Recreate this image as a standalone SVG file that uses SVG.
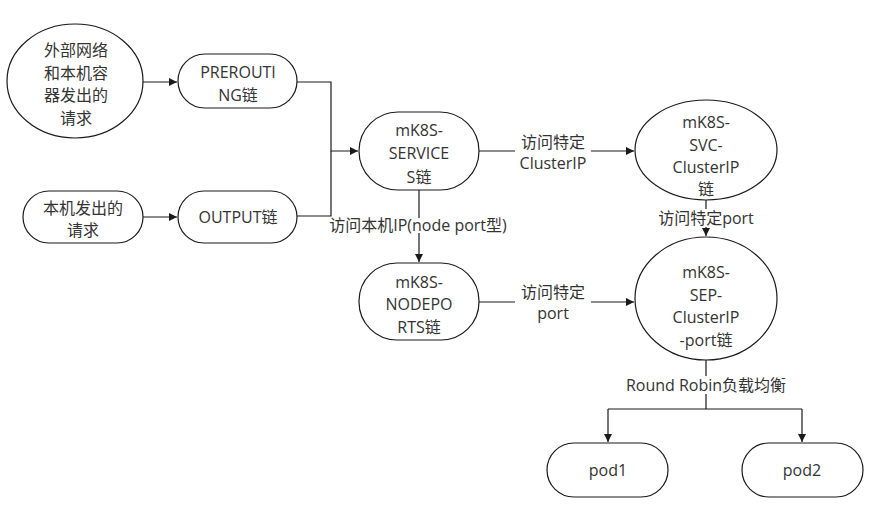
<svg xmlns="http://www.w3.org/2000/svg" width="896" height="526" viewBox="0 0 896 526">
<style>
.n{fill:#fff;stroke:#1a1a1a;stroke-width:1.2}
.t{font-family:"Open Sans","Noto Sans CJK SC",sans-serif;font-size:16px;fill:#333;text-anchor:middle;dominant-baseline:central}
.c{fill:none;stroke:#1a1a1a;stroke-width:1.2}
.lb{fill:#fff}
</style>
<defs>
<marker id="ah" viewBox="0 0 10 10" refX="10" refY="5" markerWidth="8" markerHeight="8" markerUnits="userSpaceOnUse" orient="auto">
<path d="M0,0 L10,5 L0,10 z" fill="#1a1a1a"/>
</marker>
</defs>
<rect width="896" height="526" fill="#fff"/>
<g id="connectors">
<path class="c" d="M143,82 H177" marker-end="url(#ah)"/>
<path class="c" d="M143,217 H177" marker-end="url(#ah)"/>
<path class="c" d="M297,82 H331 V151 H358" marker-end="url(#ah)"/>
<path class="c" d="M297,216 H331 V151"/>
<path class="c" d="M479,151 H634" marker-end="url(#ah)"/>
<path class="c" d="M419,190 V262" marker-end="url(#ah)"/>
<path class="c" d="M479,302 H634" marker-end="url(#ah)"/>
<path class="c" d="M706,200 V236" marker-end="url(#ah)"/>
<path class="c" d="M706,360 V409 M608,409 H802"/>
<path class="c" d="M608,409 V442" marker-end="url(#ah)"/>
<path class="c" d="M802,409 V442" marker-end="url(#ah)"/>
<rect class="lb" x="515" y="132" width="76" height="42"/>
<text class="t" x="553" y="142">访问特定</text>
<text class="t" x="553" y="163">ClusterIP</text>
<rect class="lb" x="334" y="218" width="170" height="15"/>
<text class="t" x="418" y="225">访问本机IP(node port型)</text>
<rect class="lb" x="515" y="282" width="76" height="42"/>
<text class="t" x="553" y="292">访问特定</text>
<text class="t" x="553" y="313">port</text>
<rect class="lb" x="650" y="209" width="112" height="18"/>
<text class="t" x="706" y="218">访问特定port</text>
<rect class="lb" x="616" y="376" width="180" height="18"/>
<text class="t" x="706" y="385">Round Robin负载均衡</text>
</g>
<g id="n-external">
<ellipse class="n" cx="75" cy="81" rx="68" ry="57"/>
<text class="t" x="76" y="50">外部网络</text>
<text class="t" x="76" y="73">和本机容</text>
<text class="t" x="76" y="95">器发出的</text>
<text class="t" x="76" y="118">请求</text>
</g>
<g id="n-local">
<rect class="n" x="23" y="191" width="120" height="52" rx="26"/>
<text class="t" x="83" y="208">本机发出的</text>
<text class="t" x="83" y="230">请求</text>
</g>
<g id="n-prerouting">
<rect class="n" x="178" y="54" width="119" height="54" rx="27"/>
<text class="t" x="238" y="72">PREROUTI</text>
<text class="t" x="238" y="95">NG链</text>
</g>
<g id="n-output">
<rect class="n" x="178" y="191" width="119" height="52" rx="26"/>
<text class="t" x="238" y="217">OUTPUT链</text>
</g>
<g id="n-services">
<rect class="n" x="359" y="112" width="120" height="78" rx="39"/>
<text class="t" x="419" y="130">mK8S-</text>
<text class="t" x="419" y="153">SERVICE</text>
<text class="t" x="419" y="177">S链</text>
</g>
<g id="n-nodeports">
<rect class="n" x="359" y="263" width="120" height="77" rx="38"/>
<text class="t" x="419" y="282">mK8S-</text>
<text class="t" x="419" y="304">NODEPO</text>
<text class="t" x="419" y="327">RTS链</text>
</g>
<g id="n-svc">
<ellipse class="n" cx="706" cy="150" rx="71" ry="50"/>
<text class="t" x="706" y="122">mK8S-</text>
<text class="t" x="706" y="145">SVC-</text>
<text class="t" x="706" y="167">ClusterIP</text>
<text class="t" x="706" y="189">链</text>
</g>
<g id="n-sep">
<ellipse class="n" cx="706" cy="298.5" rx="71" ry="61.5"/>
<text class="t" x="706" y="272">mK8S-</text>
<text class="t" x="706" y="295">SEP-</text>
<text class="t" x="706" y="317">ClusterIP</text>
<text class="t" x="706" y="340">-port链</text>
</g>
<g id="n-pod1">
<rect class="n" x="547" y="443" width="121" height="54" rx="27"/>
<text class="t" x="608" y="470">pod1</text>
</g>
<g id="n-pod2">
<rect class="n" x="742" y="443" width="121" height="54" rx="27"/>
<text class="t" x="802" y="470">pod2</text>
</g>
</svg>
